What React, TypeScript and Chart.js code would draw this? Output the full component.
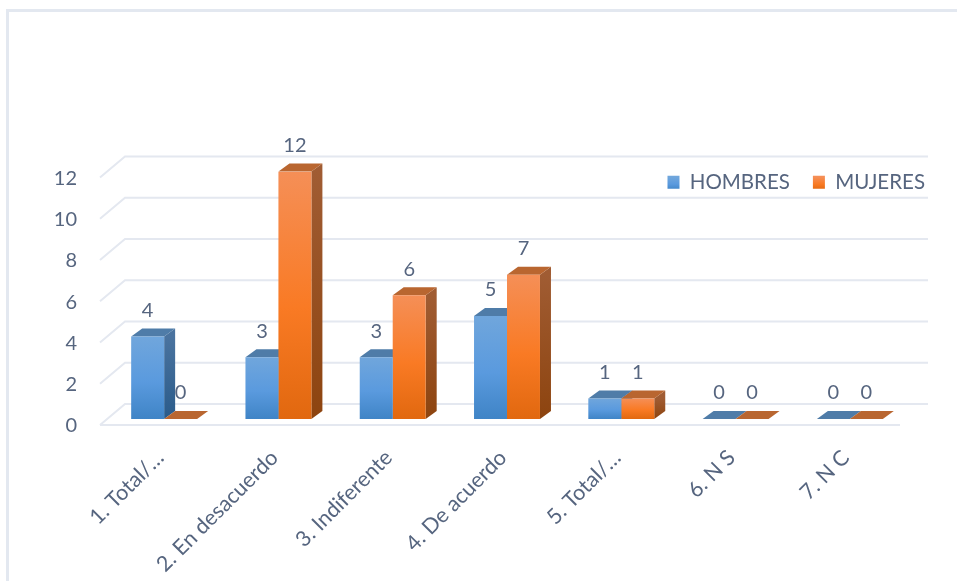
import React, { useEffect, useRef } from "react";
import { Chart, registerables } from "chart.js";

Chart.register(...registerables);

const categories = ["1. Total/…", "2. En desacuerdo", "3. Indiferente", "4. De acuerdo", "5. Total/…", "6. N S", "7. N C"];
const hombres = [4, 3, 3, 5, 1, 0, 0];
const mujeres = [0, 12, 6, 7, 1, 0, 0];

const FONT = "Lato";
const TEXT = "#56657f";
const GRID = "#e4e8f0";
const STYLES = [
  { stops: ["#70a6dc", "#5a9ade", "#3f84c6"], side: ["#4a739f", "#2a5b8a"], top: "#4f7ca8" },
  { stops: ["#f58f57", "#f97a24", "#e1680f"], side: ["#a05c33", "#8d440f"], top: "#b96630" },
];
const DX = 11;
const DY = 8;

function barGradient(c: any, top: number, bottom: number, stops: string[]) {
  const g = c.createLinearGradient(0, top, 0, Math.max(bottom, top + 1));
  g.addColorStop(0, stops[0]);
  g.addColorStop(0.55, stops[1]);
  g.addColorStop(1, stops[2]);
  return g;
}

const frontFill = (i: number) => (context: any) => {
  const chart = context.chart;
  if (context.dataIndex === undefined || !chart.scales.y) return STYLES[i].stops[1];
  const s = chart.scales.y;
  return barGradient(chart.ctx, s.getPixelForValue(context.raw), s.getPixelForValue(0), STYLES[i].stops);
};

const depthPlugin = {
  id: "depth",
  afterLayout(chart: any) {
    const l = chart.legend;
    if (l) {
      l.top = 149;
      l.bottom = l.top + l.height;
      l.left = 0;
      l.right = 948;
    }
  },
  beforeDatasetsDraw(chart: any) {
    const { ctx, chartArea, scales } = chart;
    const fx = chartArea.left - 7;
    const bx = chartArea.left + 18;
    const rx = chartArea.right + 21;
    ctx.save();
    ctx.strokeStyle = GRID;
    ctx.lineWidth = 2;
    scales.y.ticks.forEach((t: any) => {
      const y = scales.y.getPixelForValue(t.value);
      ctx.beginPath();
      ctx.moveTo(fx, y + 6);
      ctx.lineTo(bx, y - 15);
      ctx.lineTo(rx, y - 15);
      ctx.stroke();
    });
    const y0 = scales.y.getPixelForValue(0) + 6;
    ctx.beginPath();
    ctx.moveTo(fx, y0);
    ctx.lineTo(chartArea.right - 7, y0);
    ctx.stroke();
    // side and top faces of every bar, left series first; the front faces are drawn after them
    chart.data.datasets.forEach((_: any, index: number) => {
      const st = STYLES[index];
      chart.getDatasetMeta(index).data.forEach((bar: any) => {
        const { x, y, base, width } = bar.getProps(["x", "y", "base", "width"], true);
        const l = x - width / 2;
        const r = x + width / 2;
        if (base - y > 0.5) {
          const g = ctx.createLinearGradient(0, y, 0, base);
          g.addColorStop(0, st.side[0]);
          g.addColorStop(1, st.side[1]);
          ctx.fillStyle = g;
          ctx.beginPath();
          ctx.moveTo(r, y);
          ctx.lineTo(r + DX, y - DY);
          ctx.lineTo(r + DX, base - DY);
          ctx.lineTo(r, base);
          ctx.closePath();
          ctx.fill();
        }
        ctx.fillStyle = st.top;
        ctx.beginPath();
        ctx.moveTo(l, y);
        ctx.lineTo(l + DX, y - DY);
        ctx.lineTo(r + DX, y - DY);
        ctx.lineTo(r, y);
        ctx.closePath();
        ctx.fill();
      });
    });
    ctx.restore();
  },
  afterDatasetsDraw(chart: any) {
    const { ctx } = chart;
    ctx.save();
    ctx.fillStyle = TEXT;
    ctx.font = `20px ${FONT}`;
    ctx.textAlign = "center";
    ctx.textBaseline = "middle";
    chart.data.datasets.forEach((ds: any, i: number) => {
      chart.getDatasetMeta(i).data.forEach((bar: any, j: number) => {
        const { x, y } = bar.getProps(["x", "y"], true);
        ctx.fillText(String(ds.data[j]), x, y - 26);
      });
    });
    ctx.restore();
  },
};

export default function App() {
  const ref = useRef<HTMLCanvasElement>(null);
  useEffect(() => {
    const chart = new Chart(ref.current as HTMLCanvasElement, {
      type: "bar",
      data: {
        labels: categories,
        datasets: [
          { label: "HOMBRES", data: hombres, backgroundColor: frontFill(0) },
          { label: "MUJERES", data: mujeres, backgroundColor: frontFill(1) },
        ],
      },
      plugins: [depthPlugin],
      options: {
        responsive: false,
        animation: false,
        layout: { padding: { top: 118, left: 0, right: 50, bottom: 0 } },
        datasets: { bar: { barPercentage: 1, categoryPercentage: 0.577, borderWidth: 0 } },
        plugins: {
          tooltip: { enabled: false },
          legend: {
            position: "top",
            align: "end",
            labels: {
              boxWidth: 12,
              boxHeight: 13,
              padding: 23,
              color: TEXT,
              font: { family: FONT, size: 20.5 },
              generateLabels: (chart: any) =>
                chart.data.datasets.map((ds: any, i: number) => ({
                  text: ds.label,
                  fillStyle: barGradient(chart.ctx, 177, 190, STYLES[i].stops),
                  strokeStyle: "transparent",
                  lineWidth: 0,
                  hidden: false,
                  datasetIndex: i,
                  fontColor: TEXT,
                })),
            },
          },
        },
        scales: {
          x: {
            grid: { display: false, drawTicks: false },
            border: { display: false },
            afterFit: (s: any) => { s.height = 162; },
            ticks: {
              autoSkip: false,
              maxRotation: 45,
              minRotation: 45,
              padding: 26,
              labelOffset: -4,
              color: TEXT,
              font: { family: FONT, size: 21.5 },
            },
          },
          y: {
            min: 0,
            max: 12,
            grid: { display: false, drawTicks: false },
            border: { display: false },
            afterFit: (s: any) => { s.width = 107; },
            ticks: {
              stepSize: 2,
              padding: 30,
              labelOffset: 7,
              color: TEXT,
              font: { family: FONT, size: 20 },
            },
          },
        },
      },
    } as any);
    return () => chart.destroy();
  }, []);
  return (
    <div style={{ position: "fixed", left: 0, top: 0, width: 957, height: 581, background: "#fff", overflow: "hidden" }}>
      <div style={{ position: "absolute", left: 6, top: 9, right: -10, bottom: -10, borderLeft: "3px solid #e3e8f0", borderTop: "3px solid #e3e8f0" }} />
      <canvas ref={ref} width={957} height={581} style={{ position: "absolute", left: 0, top: 0 }} />
    </div>
  );
}
